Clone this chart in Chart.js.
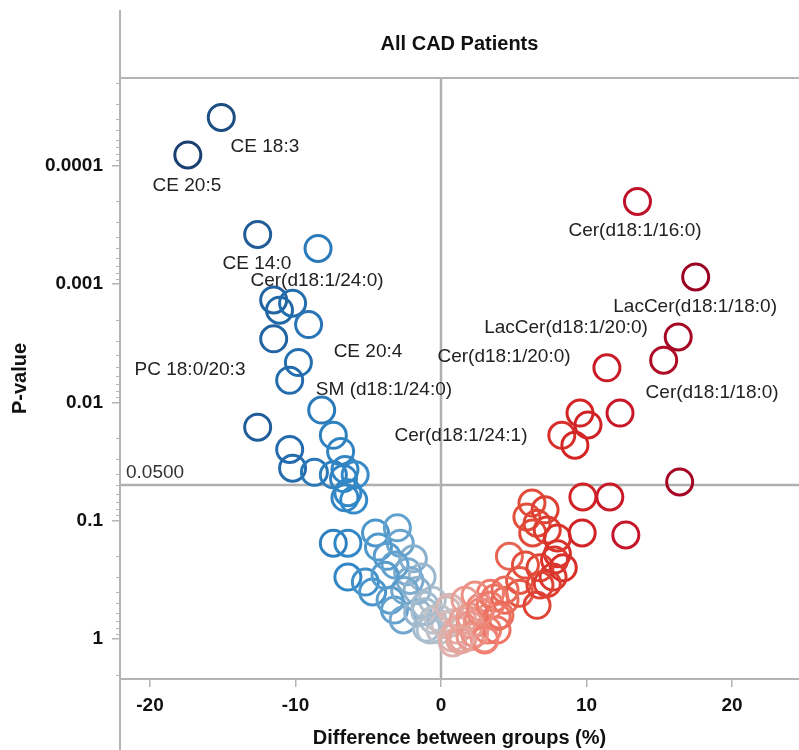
<!DOCTYPE html>
<html><head><meta charset="utf-8">
<script src="https://cdn.jsdelivr.net/npm/chart.js@4/dist/chart.umd.min.js"></script>
<style>html,body{margin:0;padding:0;background:#fff}#wrap{width:799px;height:750px}</style>
</head><body><div id="wrap"><canvas id="c" width="799" height="750"></canvas></div>
<script>
// ---- data (difference between groups %, p-value) ----
const diffX = [
 -15.1,-17.4,-12.6,-8.45,-11.5,-11.1,-10.2,-9.1,-11.5,-9.8,
 -10.4,-8.2,-12.6,-7.4,-10.4,-6.9,-10.2,-8.7,-7.4,-6.6,
 -5.9,-6.7,-6.4,-6.0,-6.6,-7.4,-6.4,-4.5,-3.0,-4.3,
 -2.8,-3.7,-1.9,-2.3,-1.3,-6.4,-5.2,-4.7,-3.5,-3.2,
 -2.6,-1.6,-0.6,-1.65,-0.55,0.4,0.8,-1.0,-2.5,-1.1,
 -0.2,-0.07,-3.16,-2.13,-3.85,-0.75,0.27,-1.1,0.75,
 0.6,1.1,0.8,2.0,2.0,2.5,2.7,3.2,3.4,3.85,
 3.85,4.4,4.7,5.4,5.4,6.6,5.9,6.25,7.15,6.6,
 7.3,6.3,8.0,8.0,6.8,8.4,7.7,7.3,9.75,11.6,
 9.7,12.7,16.4,13.5,17.5,16.3,15.3,11.4,12.3,9.55,
 10.1,8.3,9.2,1.5,3.0,2.3,1.5,
 1.65,2.34,3.37,4.05,2.0,3.0,1.3,3.7,4.4,2.7,6.8,7.8,5.8
];
const pValues = [
 3.9e-5,8.1e-5,3.8e-4,5.0e-4,1.36e-3,1.66e-3,1.45e-3,2.2e-3,2.9e-3,4.6e-3,
 6.5e-3,0.0116,0.0162,0.019,0.025,0.026,0.036,0.039,0.041,0.037,
 0.041,0.044,0.058,0.067,0.064,0.155,0.155,0.127,0.115,0.167,
 0.155,0.20,0.21,0.27,0.30,0.30,0.33,0.40,0.47,0.57,
 0.69,0.60,0.47,0.39,0.69,0.57,0.73,0.81,0.39,0.52,
 0.66,0.84,0.237,0.32,0.29,0.84,0.76,0.59,0.98,
 0.54,0.84,1.08,0.65,0.96,0.73,0.54,0.84,0.41,0.65,
 0.84,0.47,0.20,0.32,0.41,0.52,0.093,0.071,0.081,0.105,
 0.12,0.127,0.14,0.19,0.25,0.25,0.30,0.34,0.063,0.063,
 0.127,0.132,0.047,2.0e-4,8.7e-4,2.8e-3,4.4e-3,5.1e-3,0.0123,0.0123,
 0.0155,0.019,0.023,1.0,1.0,0.9,0.7,
 0.47,0.425,0.52,0.63,0.76,1.02,1.02,0.45,0.385,0.59,0.35,0.215,0.237
];
const xTickValues = [-20,-10,0,10,20];
const yTickValues = [0.0001,0.001,0.01,0.1,1];
const yTickLabels = ['0.0001','0.001','0.01','0.1','1'];
const labelNames = ['CE 18:3','CE 20:5','CE 14:0','Cer(d18:1/24:0)','PC 18:0/20:3','CE 20:4',
  'SM (d18:1/24:0)','Cer(d18:1/24:1)','Cer(d18:1/16:0)','LacCer(d18:1/18:0)','LacCer(d18:1/20:0)',
  'Cer(d18:1/20:0)','Cer(d18:1/18:0)'];
const labelX = [-12.1,-17.46,-12.65,-8.52,-17.25,-5.02,-3.92,1.37,13.33,17.46,8.59,4.33,18.63];
const labelP = [6.9e-5,1.48e-4,6.76e-4,9.4e-4,5.3e-3,3.75e-3,7.85e-3,0.0192,3.56e-4,1.56e-3,2.35e-3,4.13e-3,8.33e-3];
const thresholdP = 0.05;
const thresholdText = '0.0500';
const titleText = 'All CAD Patients';
const xTitle = 'Difference between groups (%)';
const yTitle = 'P-value';

// ---- styling ----
const FONT = "'Liberation Sans', Arial, Helvetica, sans-serif";
const colorStops = [
 [-18,[24,60,108]],[-14,[30,84,140]],[-10,[36,110,175]],[-6,[52,138,200]],
 [-3,[100,162,206]],[-1,[165,188,206]],[0,[196,196,200]],[1,[228,172,166]],
 [3,[240,130,115]],[6,[226,78,58]],[9,[212,38,36]],[13,[196,20,42]],[18,[150,0,32]]
];
function colorFor(v){
  if (v <= colorStops[0][0]) return 'rgb('+colorStops[0][1].join(',')+')';
  for (let i=1;i<colorStops.length;i++){
    const [x1,c1]=colorStops[i];
    if (v <= x1){
      const [x0,c0]=colorStops[i-1];
      const t=(v-x0)/(x1-x0);
      return 'rgb('+c0.map((c,k)=>Math.round(c+(c1[k]-c)*t)).join(',')+')';
    }
  }
  return 'rgb('+colorStops[colorStops.length-1][1].join(',')+')';
}

const points = diffX.map((x,i)=>({x:x,y:pValues[i]}));
const X_MIN=-22.06, X_MAX=24.6, Y_MIN=1.81e-5, Y_MAX=2.18;

const decorPlugin = {
  id:'decor',
  beforeDatasetsDraw(chart){
    const ctx=chart.ctx, xs=chart.scales.x, ys=chart.scales.y, ca=chart.chartArea;
    ctx.save();
    ctx.strokeStyle='#b0b0b0'; ctx.lineWidth=2.5;
    const x0=Math.round(xs.getPixelForValue(0));
    ctx.beginPath(); ctx.moveTo(x0,ca.top); ctx.lineTo(x0,ca.bottom); ctx.stroke();
    const yT=Math.round(ys.getPixelForValue(thresholdP));
    ctx.beginPath(); ctx.moveTo(ca.left,yT); ctx.lineTo(ca.right,yT); ctx.stroke();
    ctx.fillStyle='#333'; ctx.font='19px '+FONT; ctx.textAlign='left'; ctx.textBaseline='bottom';
    ctx.fillText(thresholdText, ca.left+6, yT-3);
    ctx.restore();
  },
  afterDatasetsDraw(chart){
    const ctx=chart.ctx, xs=chart.scales.x, ys=chart.scales.y, ca=chart.chartArea;
    ctx.save();
    ctx.fillStyle='#222'; ctx.font='19px '+FONT; ctx.textAlign='center'; ctx.textBaseline='middle';
    labelNames.forEach((t,i)=>{
      ctx.fillText(t, xs.getPixelForValue(labelX[i]), ys.getPixelForValue(labelP[i]));
    });
    // header and frame
    ctx.strokeStyle='#b4b4b4'; ctx.lineWidth=2;
    ctx.beginPath(); ctx.moveTo(ca.left,ca.top); ctx.lineTo(chart.width,ca.top); ctx.stroke();
    ctx.beginPath(); ctx.moveTo(ca.left,10); ctx.lineTo(ca.left,chart.height); ctx.stroke();
    // minor ticks on y axis
    ctx.strokeStyle='#b4b4b4'; ctx.lineWidth=1;
    for (let e=-5;e<=0;e++){
      for (let m=2;m<=9;m++){
        const v=m*Math.pow(10,e);
        if (v<Y_MIN||v>Y_MAX) continue;
        const py=Math.round(ys.getPixelForValue(v))+0.5;
        ctx.beginPath(); ctx.moveTo(ca.left-4,py); ctx.lineTo(ca.left,py); ctx.stroke();
      }
    }
    // titles
    ctx.fillStyle='#111'; ctx.font='bold 20px '+FONT; ctx.textAlign='center'; ctx.textBaseline='middle';
    const cx=(ca.left+ca.right)/2;
    ctx.fillText(titleText, cx, 44);
    ctx.fillText(xTitle, cx, 738);
    ctx.translate(20,(ca.top+ca.bottom)/2);
    ctx.rotate(-Math.PI/2);
    ctx.fillText(yTitle, 0, 0);
    ctx.restore();
  }
};

new Chart(document.getElementById('c'), {
  type:'scatter',
  data:{datasets:[{
    data:points,
    pointStyle:'circle',
    pointRadius:13,
    pointHoverRadius:13,
    borderWidth:3,
    backgroundColor:'rgba(0,0,0,0)',
    borderColor:(ctx)=> ctx.raw ? colorFor(ctx.raw.x) : '#888'
  }]},
  options:{
    responsive:false, animation:false, devicePixelRatio:1,
    layout:{autoPadding:false, padding:{top:78,left:0,right:0,bottom:0}},
    plugins:{legend:{display:false}, tooltip:{enabled:false}, title:{display:false}},
    scales:{
      x:{
        type:'linear', min:X_MIN, max:X_MAX,
        afterBuildTicks:(s)=>{ s.ticks = xTickValues.map(v=>({value:v})); },
        afterFit:(s)=>{ s.height = 71; s.paddingLeft = 0; s.paddingRight = 0; },
        grid:{drawOnChartArea:false, drawTicks:true, tickLength:8, color:'#b4b4b4', lineWidth:1.5},
        border:{display:true, color:'#b4b4b4', width:2},
        ticks:{color:'#111', font:{family:FONT, size:19, weight:'bold'}, padding:7, autoSkip:false, maxRotation:0,
          callback:(v)=> String(v)}
      },
      y:{
        type:'logarithmic', reverse:true, min:Y_MIN, max:Y_MAX,
        afterBuildTicks:(s)=>{ s.ticks = yTickValues.map(v=>({value:v})); },
        afterFit:(s)=>{ s.width = 120; s.paddingTop = 0; s.paddingBottom = 0; },
        grid:{drawOnChartArea:false, drawTicks:true, tickLength:8, color:'#b4b4b4', lineWidth:1.5},
        border:{display:true, color:'#b4b4b4', width:2},
        ticks:{color:'#111', font:{family:FONT, size:19, weight:'bold'}, padding:9, autoSkip:false,
          callback:(v)=>{ const i=yTickValues.findIndex(t=>Math.abs(t-v)/t<1e-6); return i>=0?yTickLabels[i]:''; }}
      }
    }
  },
  plugins:[decorPlugin]
});
</script>
</body></html>
